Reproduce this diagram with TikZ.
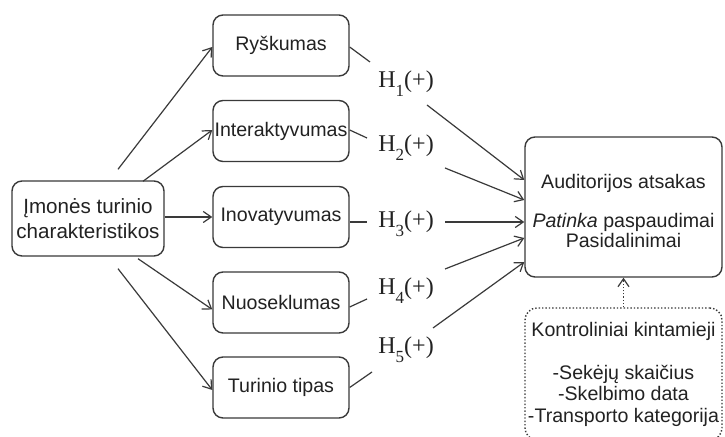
\documentclass[tikz,border=0pt]{standalone}
\usepackage{fontspec}
\setmainfont{Liberation Sans}
\newfontfamily\hserif{Liberation Serif}
\usetikzlibrary{arrows.meta,calc}
\definecolor{ink}{HTML}{222222}
\definecolor{edge}{HTML}{3A3A3A}
\newcommand{\hyplabel}[1]{H\raisebox{-4.5pt}{\fontsize{8.5}{8.5}\selectfont #1}(+)}
\begin{document}
\begin{tikzpicture}[x=0.5pt,y=-0.5pt,
  box/.style={draw=edge,line width=0.7pt,rounded corners=5pt,text=ink,align=center,inner sep=0pt},
  midbox/.style={box,minimum width=68pt,minimum height=30.5pt,font=\fontsize{9.8}{11}\selectfont},
  link/.style={draw=edge,line width=0.6pt},
  arr/.style={link,-{Straight Barb[length=4pt,width=5.5pt]}},
  hyp/.style={font=\hserif\fontsize{12}{14}\selectfont,text=ink,inner sep=0pt,anchor=base west}]
\clip (0,0) rectangle (725,437);
\fill[white] (0,0) rectangle (725,437);

% source box
\node[box,minimum width=76pt,minimum height=37.5pt,font=\fontsize{10.3}{12.5}\selectfont]
  (src) at (88,218.5) {Įmonės turinio\\charakteristikos};

% content characteristics
\node[midbox] (m1) at (281,45.5)  {Ryškumas};
\node[midbox] (m2) at (281,131)   {Interaktyvumas};
\node[midbox] (m3) at (281,217)   {Inovatyvumas};
\node[midbox] (m4) at (281,302.5) {Nuoseklumas};
\node[midbox] (m5) at (281,387.5) {Turinio tipas};

% audience response
\node[box,minimum width=98.5pt,minimum height=70pt,font=\fontsize{9.8}{9.9}\selectfont]
  (aud) at (623.5,207)
  {\rule{0pt}{11pt}Auditorijos atsakas\\[9.9pt]\textit{Patinka} paspaudimai\\Pasidalinimai};

% control variables
\node[box,densely dotted,rounded corners=6pt,minimum width=98.5pt,minimum height=66pt,
  font=\fontsize{9.8}{10.75}\selectfont]
  (ctrl) at (623.5,374)
  {Kontroliniai kintamieji\\[10.75pt]-Sekėjų skaičius\\-Skelbimo data\\-Transporto kategorija};

% hypotheses
\node[hyp] (h1) at (378,88)  {\hyplabel{1}};
\node[hyp] (h2) at (378,152) {\hyplabel{2}};
\node[hyp] (h3) at (378,228) {\hyplabel{3}};
\node[hyp] (h4) at (378,295) {\hyplabel{4}};
\node[hyp] (h5) at (378,354) {\hyplabel{5}};

% free ends around the hypothesis labels
\coordinate (c1) at (370,62);
\coordinate (c2) at (367,138);
\coordinate (c3) at (367,222);
\coordinate (c4) at (367,299);
\coordinate (c5) at (372,372);
\coordinate (d1) at (427,105);
\coordinate (d2) at (445,168);
\coordinate (d3) at (445,222);
\coordinate (d4) at (445,269);
\coordinate (d5) at (433,328);

% source -> characteristics
\draw[arr] ($(src.north)+(30,-11)$) -- ($(m1.west)+(0,1.5)$);
\draw[arr] ($(src.north)+(55,1)$)   -- ($(m2.west)+(0,-1)$);
\draw[arr] ($(src.east)+(0,-1.5)$)  -- (m3.west);
\draw[arr] ($(src.south)+(50,2)$)   -- ($(m4.west)+(0,7)$);
\draw[arr] ($(src.south)+(30,12)$)  -- ($(m5.west)+(0,2.5)$);

% characteristics -> hypotheses
\draw[link] ($(m1.east)+(0,1.5)$) -- (c1);
\draw[link] ($(m2.east)+(0,-1)$)  -- (c2);
\draw[link] ($(m3.east)+(0,5)$)   -- (c3);
\draw[link] ($(m4.east)+(0,4.5)$) -- (c4);
\draw[link] (m5.east)             -- (c5);

% hypotheses -> audience response
\draw[arr] (d1) -- ($(aud.west)+(0,-27)$);
\draw[arr] (d2) -- ($(aud.west)+(0,-7)$);
\draw[arr] (d3) -- ($(aud.west)+(0,15)$);
\draw[arr] (d4) -- ($(aud.west)+(0,31)$);
\draw[arr] (d5) -- ($(aud.west)+(0,55)$);

% control variables -> audience response
\draw[arr,densely dotted] (ctrl.north) -- (aud.south);
\end{tikzpicture}
\end{document}
